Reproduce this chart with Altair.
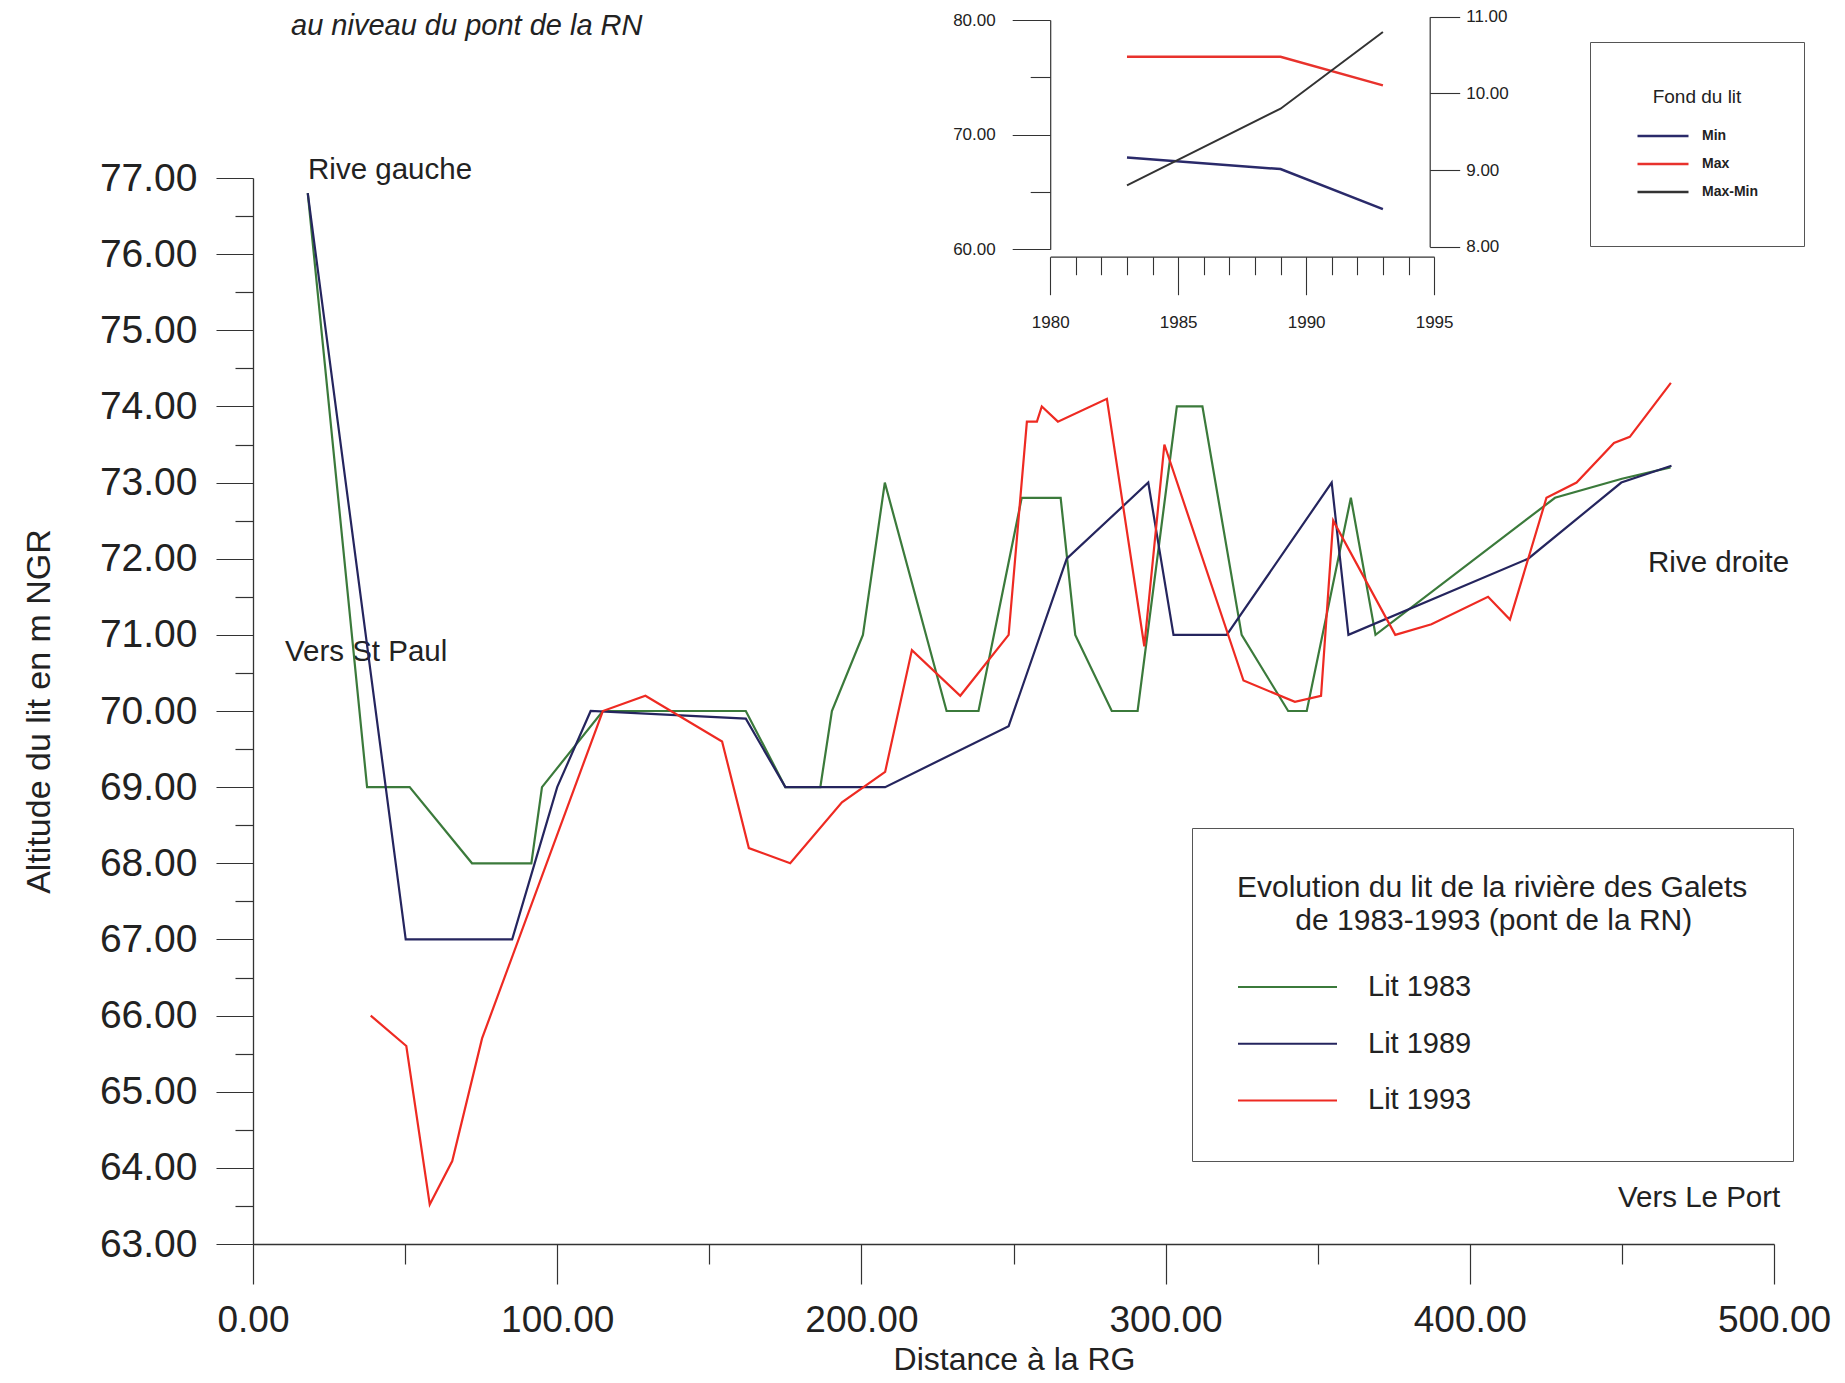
import altair as alt
import pandas as pd

# ---------------- main profile data (distance from left bank, bed altitude) ----------------
series_names = ["Lit 1983", "Lit 1989", "Lit 1993"]
series_colors = ["#3b7a3b", "#25255e", "#ee2a22"]

dist_1983 = [18, 37.5, 51.5, 72, 91.5, 95, 115, 162, 175, 186.5, 190.3, 200.5, 207.7, 228, 238.5,
             252.7, 265.5, 270.3, 282.3, 290.8, 303.7, 312.1, 325, 340.3, 346.4, 360.9, 369, 428, 450, 466]
alt_1983 = [76.8, 69, 69, 68, 68, 69, 70, 70, 69, 69, 70, 71, 73, 70, 70,
            72.8, 72.8, 71, 70, 70, 74, 74, 71, 70, 70, 72.8, 71, 72.8, 73.05, 73.2]

dist_1989 = [18, 50.2, 85.2, 100, 111, 162, 175, 207.8, 248.4, 267.5, 294.3, 302.6, 320.1,
             354.6, 360.1, 419.2, 449.8, 466.3]
alt_1989 = [76.8, 67, 67, 69, 70, 69.9, 69, 69, 69.8, 72, 73, 71, 71,
            73, 71, 72, 73, 73.22]

dist_1993 = [38.7, 50.4, 58.1, 65.5, 75.3, 115, 129, 154.2, 163, 176.6, 193.6, 207.8, 216.6, 232.5,
             248.4, 254.4, 257.7, 259.3, 264.6, 280.7, 293, 299.6, 325.6, 342.5, 351.1, 355.1, 375.5,
             387.4, 406, 413.2, 425.2, 435.1, 447.4, 452.6, 466.1]
alt_1993 = [66.0, 65.6, 63.52, 64.09, 65.7, 70.0, 70.2, 69.6, 68.2, 68.0, 68.8, 69.2, 70.8, 70.2,
            71.0, 73.8, 73.8, 74.0, 73.8, 74.1, 70.85, 73.5, 70.4, 70.12, 70.2, 72.5, 71.0,
            71.14, 71.5, 71.2, 72.8, 73.0, 73.52, 73.6, 74.31]

# axis tick values / labels
x_ticks = list(range(0, 501, 50))
y_ticks = [63 + 0.5 * i for i in range(29)]

# annotations (placed in data units)
ann_labels = ["Rive gauche", "Vers St Paul", "Rive droite", "Vers Le Port"]
ann_dist = [18.1, 10.5, 458.6, 448.7]
ann_alt = [77.1, 70.77, 71.94, 63.6]
head_label = ["au niveau du pont de la RN"]
head_dist = [12.5]
head_alt = [79.0]

# second title line indented (zero-width space + no-break spaces) so it sits centred under line 1
legend_title = ["Evolution du lit de la rivière des Galets",
                "\u200b" + "\u00a0" * 7 + "de 1983-1993 (pont de la RN)"]

# ---------------- inset data ----------------
inset_years = [1983, 1989, 1993]
fond_min = [68.0, 67.0, 63.5]
fond_max = [76.8, 76.8, 74.3]
max_min = [8.8, 9.8, 10.8]
inset_names = ["Min", "Max", "Max-Min"]
inset_colors = ["#2a2a6a", "#e8322c", "#333333"]
inset_x_ticks = list(range(1980, 1996))
inset_y_ticks = [60, 65, 70, 75, 80]
inset_y2_ticks = [8, 9, 10, 11]

FONT = "Liberation Sans"
INK = "#222222"
NO_VIEW = {"stroke": None, "strokeWidth": 0}

rows = []
for name, xs, ys in zip(series_names, [dist_1983, dist_1989, dist_1993], [alt_1983, alt_1989, alt_1993]):
    for i, (x, y) in enumerate(zip(xs, ys)):
        rows.append({"serie": name, "distance": x, "altitude": y, "ordre": i})
main_df = pd.DataFrame(rows)
ann_df = pd.DataFrame({"label": ann_labels, "distance": ann_dist, "altitude": ann_alt})
head_df = pd.DataFrame({"label": head_label, "distance": head_dist, "altitude": head_alt})

mm_rows = []
for yr, a, b in zip(inset_years, fond_min, fond_max):
    mm_rows.append({"annee": yr, "cote": a, "indic": "Min"})
    mm_rows.append({"annee": yr, "cote": b, "indic": "Max"})
mm_df = pd.DataFrame(mm_rows)
diff_df = pd.DataFrame({"annee": inset_years, "ecart": max_min, "indic": ["Max-Min"] * 3})

W, H = 1521, 1066

x_main = alt.X(
    "distance:Q",
    scale=alt.Scale(domain=[0, 500], nice=False, zero=False),
    axis=alt.Axis(
        orient="bottom", values=x_ticks, format=".2f",
        labelExpr="datum.value % 100 === 0 ? datum.label : ''",
        tickSize={"condition": {"test": "datum.value % 100 === 0", "value": 40}, "value": 20},
        labelPadding=18, labelFontSize=37, labelFont=FONT, labelColor=INK,
        labelFlush=False, labelOverlap=False, grid=False,
        domainColor="#333", tickColor="#333", domainWidth=1.3, tickWidth=1.2,
        title="Distance à la RG", titleFont=FONT, titleFontSize=32, titleFontWeight="normal",
        titleColor=INK, titleX=761, titleY=115, titleAlign="center", titleBaseline="middle",
    ),
)
y_main = alt.Y(
    "altitude:Q",
    scale=alt.Scale(domain=[63, 77], nice=False, zero=False),
    axis=alt.Axis(
        orient="left", values=y_ticks, format=".2f",
        labelExpr="datum.value % 1 === 0 ? datum.label : ''",
        tickSize={"condition": {"test": "datum.value % 1 === 0", "value": 37}, "value": 18},
        labelPadding=19, labelFontSize=39, labelFont=FONT, labelColor=INK,
        labelFlush=False, labelOverlap=False, grid=False,
        domainColor="#333", tickColor="#333", domainWidth=1.3, tickWidth=1.2,
        title="Altitude du lit en m NGR", titleFont=FONT, titleFontSize=34, titleFontWeight="normal",
        titleColor=INK, titleX=-214, titleY=533, titleAngle=-90, titleAlign="center",
        titleBaseline="middle",
    ),
)

lines = alt.Chart(main_df).mark_line(strokeWidth=2.2).encode(
    x=x_main,
    y=y_main,
    order="ordre:Q",
    color=alt.Color(
        "serie:N",
        scale=alt.Scale(domain=series_names, range=series_colors),
        legend=alt.Legend(
            orient="none", legendX=939, legendY=650,
            title=legend_title,
            titleFont=FONT, titleFontSize=30, titleFontWeight="normal", titleColor=INK,
            titleAnchor="start", titleAlign="left", titleLineHeight=33, titleLimit=2000,
            titlePadding=36, padding=45, strokeColor="#555",
            symbolType="stroke", symbolSize=9801, symbolStrokeWidth=2, clipHeight=30,
            labelFont=FONT, labelFontSize=29, labelColor=INK, labelOffset=30, labelLimit=1000,
            rowPadding=26.7,
        ),
    ),
).properties(view=NO_VIEW)

texts = alt.Chart(ann_df).mark_text(
    align="left", baseline="middle", font=FONT, fontSize=29.5, color=INK
).encode(x=x_main, y=y_main, text="label:N").properties(view=NO_VIEW)

head = alt.Chart(head_df).mark_text(
    align="left", baseline="middle", font=FONT, fontSize=29, fontStyle="italic", color=INK
).encode(x=x_main, y=y_main, text="label:N").properties(view=NO_VIEW)

main = alt.layer(texts, head, lines)

# ---------------- inset ----------------
inset_x = alt.X(
    "annee:Q",
    scale=alt.Scale(domain=[1980, 1995], range=[797.2, 1181.1], nice=False, zero=False),
    axis=alt.Axis(
        orient="bottom", offset=-987.3, values=inset_x_ticks, format="d",
        labelExpr="datum.value % 5 === 0 ? datum.label : ''",
        tickSize={"condition": {"test": "datum.value % 5 === 0", "value": 38}, "value": 18},
        labelPadding=20, labelFontSize=17, labelFont=FONT, labelColor=INK,
        labelFlush=False, labelOverlap=False, grid=False,
        domainColor="#333", tickColor="#333", domainWidth=1.2, tickWidth=1.1, title=None,
    ),
)
inset_color = alt.Color(
    "indic:N",
    scale=alt.Scale(domain=inset_names, range=inset_colors),
    legend=alt.Legend(
        orient="none", legendX=1337, legendY=-136,
        title="Fond du lit", titleFont=FONT, titleFontSize=19, titleFontWeight="normal",
        titleColor=INK, titleAnchor="middle", titleAlign="center", titlePadding=21,
        padding=46, strokeColor="#555",
        symbolType="stroke", symbolSize=2601, symbolStrokeWidth=2.5, clipHeight=16,
        labelFont=FONT, labelFontSize=14, labelFontWeight="bold", labelColor=INK,
        labelOffset=12, rowPadding=12,
    ),
)

mm = alt.Chart(mm_df).mark_line(strokeWidth=2.5).encode(
    x=inset_x,
    y=alt.Y(
        "cote:Q",
        scale=alt.Scale(domain=[60, 80], range=[71.3, -158], nice=False, zero=False),
        axis=alt.Axis(
            orient="left", offset=-797.2, values=inset_y_ticks, format=".2f",
            labelExpr="datum.value % 10 === 0 ? datum.label : ''",
            tickSize={"condition": {"test": "datum.value % 10 === 0", "value": 38}, "value": 20},
            labelPadding=17, labelFontSize=17, labelFont=FONT, labelColor=INK,
            labelFlush=False, labelOverlap=False, grid=False,
            domainColor="#333", tickColor="#333", domainWidth=1.2, tickWidth=1.1, title=None,
        ),
    ),
    color=inset_color,
).properties(view=NO_VIEW)
diff = alt.Chart(diff_df).mark_line(strokeWidth=2).encode(
    x=inset_x,
    y=alt.Y(
        "ecart:Q",
        scale=alt.Scale(domain=[8, 11], range=[68.7, -161.3], nice=False, zero=False),
        axis=alt.Axis(
            orient="right", offset=-344.3, values=inset_y2_ticks, format=".2f",
            tickSize=30, labelPadding=6, labelFontSize=17, labelFont=FONT, labelColor=INK,
            labelFlush=False, labelOverlap=False, grid=False,
            domainColor="#333", tickColor="#333", domainWidth=1.2, tickWidth=1.1, title=None,
        ),
    ),
    color=inset_color,
).properties(view=NO_VIEW)
inset = alt.layer(mm, diff).resolve_scale(y="independent")

chart = (
    alt.layer(main, inset)
    .resolve_scale(x="independent", y="independent", color="independent")
    .properties(
        width=W, height=H,
        autosize=alt.AutoSizeParams(type="none"),
        padding={"left": 245, "top": 170, "right": 63, "bottom": 133},
        background="white",
        view=NO_VIEW,
    )
    .configure_view(stroke=None, strokeWidth=0, strokeOpacity=0)
    .configure(font=FONT)
)

chart.save("out.html", embed_options={"renderer": "svg", "actions": False})
